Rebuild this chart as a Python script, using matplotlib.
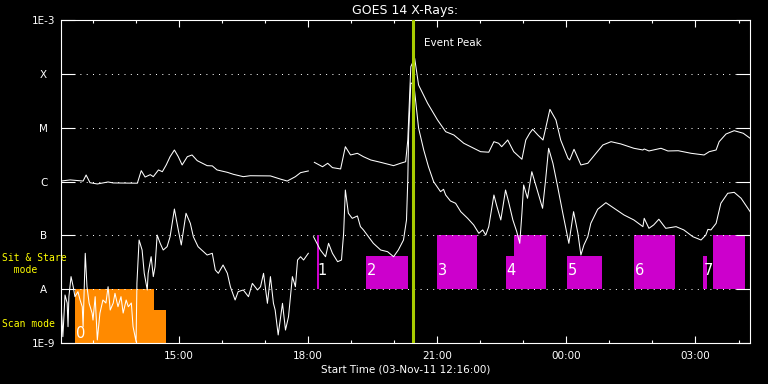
import numpy as np
import matplotlib
matplotlib.use("Agg")
import matplotlib.pyplot as plt

# time axis: hours after 03-Nov-11 12:00 (start 12:16, 16 h window)
t_start = 0.2667
t_end = 16.2667
event_peak = 8.45

# GOES 14 long channel (1-8 A), W/m^2 ; nan marks the data gap
long_t = [0.27, 0.48, 0.78, 0.85, 0.94, 1.11, 1.36, 1.48, 2.04, 2.13, 2.22, 2.34, 2.41,
          2.53, 2.62, 2.71, 2.80, 2.90, 2.99, 3.08, 3.20, 3.31, 3.43, 3.66, 3.78, 3.89,
          4.13, 4.27, 4.50, 4.66, 5.13, 5.36, 5.52, 5.71, 5.83, 6.01, 6.07,
          6.15, 6.34, 6.46, 6.57, 6.76, 6.87, 6.99, 7.15, 7.29, 7.46, 7.69, 7.99, 8.15,
          8.27, 8.32, 8.39, 8.48, 8.57, 8.78, 9.01, 9.20, 9.39, 9.62, 10.01, 10.20, 10.32,
          10.43, 10.50, 10.64, 10.78, 10.97, 11.06, 11.15, 11.22, 11.34, 11.46, 11.62,
          11.76, 11.87, 12.04, 12.08, 12.18, 12.34, 12.50, 12.69, 12.85, 13.04, 13.27,
          13.57, 13.78, 13.81, 13.92, 14.20, 14.36, 14.60, 14.90, 15.20, 15.32, 15.48,
          15.55, 15.71, 15.90, 16.11, 16.27]
long_flux = [1.02e-6, 1.07e-6, 1.02e-6, 1.32e-6, 0.95e-6, 0.90e-6, 0.98e-6, 0.94e-6,
             0.93e-6, 1.59e-6, 1.21e-6, 1.34e-6, 1.23e-6, 1.64e-6, 1.52e-6, 2.03e-6,
             2.89e-6, 3.85e-6, 2.89e-6, 2.03e-6, 2.89e-6, 3.11e-6, 2.44e-6, 1.97e-6,
             1.95e-6, 1.64e-6, 1.48e-6, 1.36e-6, 1.23e-6, 1.28e-6, 1.27e-6, 1.11e-6,
             1.02e-6, 1.23e-6, 1.46e-6, 1.57e-6, np.nan,
             2.27e-6, 1.88e-6, 2.18e-6, 1.81e-6, 1.71e-6, 4.43e-6, 3.11e-6, 3.34e-6,
             2.89e-6, 2.51e-6, 2.27e-6, 1.97e-6, 2.18e-6, 2.33e-6, 5.90e-6, 1.36e-4,
             1.94e-4, 6.21e-5, 2.84e-5, 1.39e-5, 8.42e-6, 7.31e-6, 5.13e-6, 3.58e-6,
             3.50e-6, 5.49e-6, 5.13e-6, 4.43e-6, 5.90e-6, 3.58e-6, 2.59e-6, 5.90e-6,
             7.87e-6, 9.33e-6, 7.31e-6, 5.90e-6, 2.19e-5, 1.39e-5, 5.90e-6, 2.70e-6,
             2.51e-6, 3.97e-6, 2.03e-6, 2.18e-6, 3.34e-6, 4.77e-6, 5.49e-6, 4.98e-6,
             4.14e-6, 3.85e-6, 4.02e-6, 3.69e-6, 4.14e-6, 3.69e-6, 3.73e-6, 3.34e-6,
             3.11e-6, 3.58e-6, 3.85e-6, 5.49e-6, 7.63e-6, 8.79e-6, 7.87e-6, 6.35e-6]

# GOES 14 short channel (0.5-4 A), W/m^2
short_t = [0.27, 0.29, 0.31, 0.36, 0.41, 0.43, 0.45, 0.50, 0.55, 0.59, 0.66, 0.71, 0.76,
           0.78, 0.83, 0.87, 0.92, 0.99, 1.01, 1.06, 1.11, 1.17, 1.24, 1.31, 1.36, 1.41,
           1.48, 1.52, 1.59, 1.66, 1.71, 1.78, 1.83, 1.90, 1.94, 2.01, 2.03, 2.08, 2.15,
           2.20, 2.27, 2.29, 2.36, 2.41, 2.45, 2.50, 2.57, 2.64, 2.73, 2.80, 2.90, 2.99,
           3.06, 3.17, 3.27, 3.34, 3.45, 3.66, 3.78, 3.85, 3.92, 4.03, 4.13, 4.20, 4.31,
           4.38, 4.50, 4.62, 4.71, 4.83, 4.90, 4.97, 5.06, 5.13, 5.20, 5.24, 5.31, 5.41,
           5.48, 5.55, 5.64, 5.71, 5.76, 5.83, 5.90, 6.01, 6.07,
           6.13, 6.29, 6.41, 6.48, 6.57, 6.69, 6.78, 6.83, 6.87, 6.94, 7.03, 7.15, 7.22,
           7.29, 7.38, 7.52, 7.69, 7.85, 7.99, 8.10, 8.22, 8.29, 8.32, 8.34, 8.39, 8.46,
           8.57, 8.69, 8.80, 8.92, 9.08, 9.15, 9.20, 9.31, 9.43, 9.55, 9.71, 9.85, 9.97,
           10.06, 10.13, 10.20, 10.32, 10.38, 10.48, 10.59, 10.66, 10.76, 10.85, 10.92,
           10.97, 11.01, 11.10, 11.20, 11.29, 11.45, 11.52, 11.59, 11.69, 11.80, 11.92,
           12.06, 12.17, 12.27, 12.34, 12.41, 12.50, 12.57, 12.73, 12.92, 13.11, 13.34,
           13.57, 13.78, 13.81, 13.92, 14.03, 14.15, 14.31, 14.55, 14.73, 14.94, 15.13,
           15.24, 15.29, 15.36, 15.48, 15.59, 15.75, 15.90, 16.06, 16.27]
short_flux = [4.72e-9, 2.67e-9, 1.31e-9, 7.79e-9, 5.53e-9, 2.01e-9, 7.25e-9, 1.71e-8,
              1.11e-8, 7.25e-9, 8.97e-9, 6.29e-9, 4.72e-9, 2.01e-9, 4.64e-8, 1.11e-8,
              5.46e-9, 3.56e-9, 2.67e-9, 7.25e-9, 1.14e-9, 3.56e-9, 6.29e-9, 5.53e-9,
              1.11e-8, 4.10e-9, 5.53e-9, 8.38e-9, 4.72e-9, 7.25e-9, 3.60e-9, 6.29e-9,
              4.72e-9, 5.53e-9, 2.01e-9, 1.06e-9, 1.30e-8, 8.19e-8, 5.34e-8, 1.97e-8,
              9.66e-9, 1.97e-8, 4.01e-8, 1.71e-8, 2.61e-8, 1.01e-7, 7.11e-8, 5.34e-8,
              6.15e-8, 9.43e-8, 3.08e-7, 1.26e-7, 6.62e-8, 2.57e-7, 1.67e-7, 9.43e-8,
              6.15e-8, 4.31e-8, 4.64e-8, 2.27e-8, 1.97e-8, 2.81e-8, 1.97e-8, 1.11e-8,
              6.29e-9, 8.97e-9, 9.66e-9, 7.25e-9, 1.28e-8, 9.66e-9, 1.11e-8, 1.97e-8,
              5.46e-9, 1.71e-8, 5.46e-9, 4.10e-9, 1.41e-9, 5.46e-9, 1.74e-9, 3.08e-9,
              1.71e-8, 1.11e-8, 3.48e-8, 4.01e-8, 3.48e-8, 4.64e-8, np.nan,
              9.43e-8, 5.34e-8, 4.01e-8, 7.11e-8, 4.64e-8, 3.24e-8, 3.48e-8, 1.09e-7,
              6.95e-7, 2.57e-7, 2.07e-7, 2.29e-7, 1.45e-7, 1.26e-7, 1.01e-7, 7.11e-8,
              5.34e-8, 4.97e-8, 4.01e-8, 5.34e-8, 8.19e-8, 1.93e-7, 1.07e-6, 7.96e-6,
              6.76e-5, 6.48e-5, 9.86e-6, 3.85e-6, 1.88e-6, 9.92e-7, 6.47e-7, 7.16e-7,
              5.61e-7, 4.35e-7, 3.94e-7, 2.75e-7, 2.07e-7, 1.56e-7, 1.09e-7, 1.26e-7,
              1.01e-7, 1.45e-7, 5.61e-7, 3.66e-7, 1.93e-7, 6.95e-7, 4.22e-7, 1.93e-7,
              1.17e-7, 7.11e-8, 2.57e-7, 8.61e-7, 4.88e-7, 1.52e-6, 8.61e-7, 3.18e-7,
              1.07e-6, 4.14e-6, 2.18e-6, 8.01e-7, 2.57e-7, 7.11e-8, 2.75e-7, 1.09e-7,
              4.31e-8, 6.62e-8, 9.43e-8, 1.67e-7, 3.05e-7, 4.04e-7, 3.18e-7, 2.39e-7,
              1.93e-7, 1.45e-7, 2.07e-7, 1.35e-7, 1.56e-7, 1.99e-7, 1.35e-7, 1.45e-7,
              1.26e-7, 9.43e-8, 8.19e-8, 1.01e-7, 1.29e-7, 1.26e-7, 1.67e-7, 3.94e-7,
              6.04e-7, 6.29e-7, 4.88e-7, 2.75e-7]

# EIS observing blocks
scan_start = [0.59, 2.43]
scan_end = [2.43, 2.71]
scan_top = [1e-8, 4.1e-9]

sit_start = [6.21, 7.36, 8.99, 10.59, 10.79, 12.01, 13.58, 15.17, 15.41]
sit_end = [6.26, 8.33, 9.93, 10.79, 11.54, 12.84, 14.52, 15.26, 16.14]
sit_top = [1e-7, 4.1e-8, 1e-7, 4.1e-8, 1e-7, 4.1e-8, 1e-7, 4.1e-8, 1e-7]

block_ids = ["0", "1", "2", "3", "4", "5", "6", "7"]
block_label_t = [0.62, 6.22, 7.38, 9.01, 10.61, 12.03, 13.60, 15.19]
block_label_f = [1.5e-9, 2.2e-8, 2.2e-8, 2.2e-8, 2.2e-8, 2.2e-8, 2.2e-8, 2.2e-8]

ytick_vals = [1e-9, 1e-8, 1e-7, 1e-6, 1e-5, 1e-4, 1e-3]
ytick_labels = ["1E-9", "A", "B", "C", "M", "X", "1E-3"]
xtick_vals = [3, 6, 9, 12, 15]
xtick_labels = ["15:00", "18:00", "21:00", "00:00", "03:00"]

plt.rcParams["font.family"] = ["DejaVu Sans"]

fig = plt.figure(figsize=(7.68, 3.84), dpi=100, facecolor="black")
ax = fig.add_axes([61 / 768, 1 - 343 / 384, 689 / 768, 323 / 384])
ax.set_facecolor("black")
ax.set_yscale("log")
ax.set_xlim(t_start, t_end)
ax.set_ylim(1e-9, 1e-3)

# observing mode blocks
ax.bar(scan_start, np.array(scan_top) - 1e-9, width=np.array(scan_end) - np.array(scan_start),
       bottom=1e-9, align="edge", color="#ff8a00", linewidth=0, zorder=1)
ax.bar(sit_start, np.array(sit_top) - 1e-8, width=np.array(sit_end) - np.array(sit_start),
       bottom=1e-8, align="edge", color="#cc00cc", linewidth=0, zorder=1)
for lab, t, f in zip(block_ids, block_label_t, block_label_f):
    ax.text(t, f, lab, color="white", fontsize=10.5, ha="left", va="center", zorder=2)

# class gridlines
for v in ytick_vals[1:-1]:
    ax.axhline(v, color="white", lw=0.72, dashes=(1, 5.3), zorder=1.5)

ax.plot(long_t, long_flux, color="white", lw=0.75, zorder=3)
ax.plot(short_t, short_flux, color="white", lw=0.75, zorder=3)

ax.axvline(event_peak, color="#a8cc00", lw=2.2, zorder=4)
ax.text(event_peak + 0.24, 3.7e-4, "Event Peak", color="white", fontsize=7.5,
        ha="left", va="center")

for side in ax.spines.values():
    side.set_color("white")
    side.set_linewidth(0.8)

ax.set_yticks(ytick_vals)
ax.set_yticklabels(ytick_labels, ha="center")
ax.yaxis.set_minor_locator(matplotlib.ticker.NullLocator())
ax.tick_params(axis="y", which="major", direction="in", length=10, width=0.8,
               left=True, right=True, colors="white", labelsize=7.5, pad=12.5)

ax.set_xticks(xtick_vals)
ax.set_xticklabels(xtick_labels)
ax.set_xticks(np.arange(1, 17), minor=True)
ax.tick_params(axis="x", which="major", direction="in", length=5, width=0.8,
               top=True, bottom=True, colors="white", labelsize=7.5, pad=6)
ax.tick_params(axis="x", which="minor", direction="in", length=2.5, width=0.8,
               top=True, bottom=True, colors="white")

ax.set_xlabel("Start Time (03-Nov-11 12:16:00)", color="white", fontsize=7.5, labelpad=2)
ax.set_title("GOES 14 X-Rays:", color="white", fontsize=9, pad=4)

fig.text(2 / 768, 1 - 264 / 384, "Sit & Stare\n  mode", color="yellow", fontsize=7,
         family="DejaVu Sans Mono", ha="left", va="center", linespacing=1.35)
fig.text(2 / 768, 1 - 324 / 384, "Scan mode", color="yellow", fontsize=7,
         family="DejaVu Sans Mono", ha="left", va="center")

fig.savefig("out.png", dpi=100, facecolor="black")
